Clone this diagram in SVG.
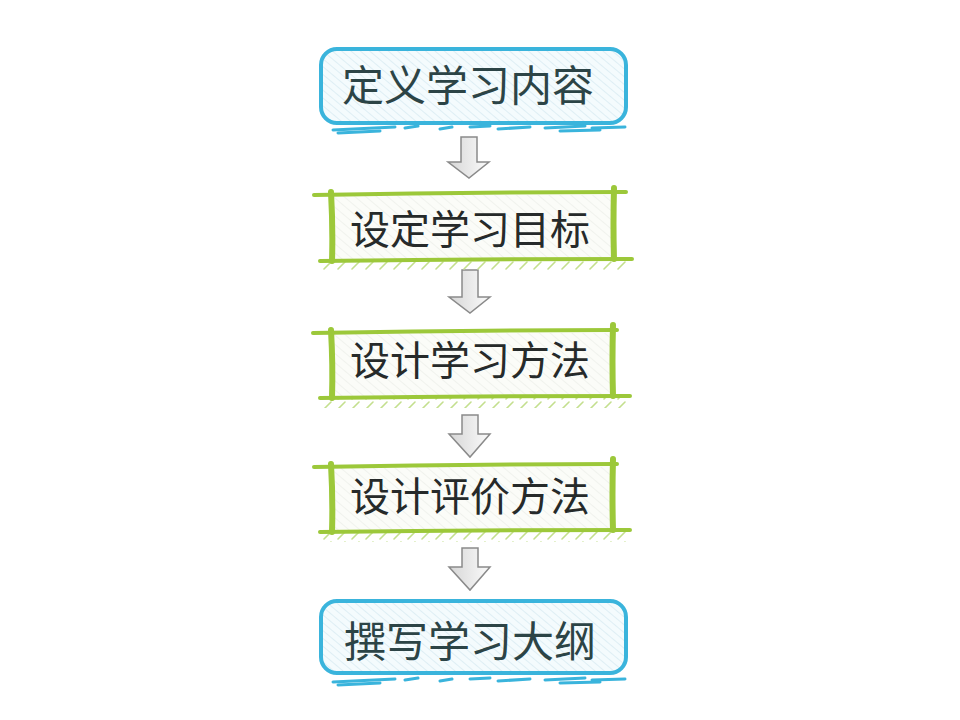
<svg xmlns="http://www.w3.org/2000/svg" width="960" height="720" viewBox="0 0 960 720">
<style>
  .lbl { font-family: "Noto Sans CJK SC", "Noto Sans", sans-serif; text-anchor: middle; font-weight: 400; }
  .blue-lbl { font-size: 42px; fill: #2c4446; }
  .green-lbl { font-size: 40px; fill: #262a2a; }
  .blue-box { fill: url(#hatchBlue); stroke: #3ab4dc; stroke-width: 4; }
  .blue-ul { stroke: #3ab4dc; stroke-width: 3; stroke-linecap: round; fill: none; }
  .g-line { stroke: #9cc83a; stroke-width: 4; stroke-linecap: round; fill: none; }
  .g-vert { stroke: #9cc83a; stroke-width: 6; stroke-linecap: round; fill: none; }
  .g-fill { fill: url(#hatchGrey); }
  .g-tick { fill: url(#tickGreen); }
  .arrow { fill: url(#arrGrad); stroke: #8a8a8a; stroke-width: 1.5; stroke-linejoin: miter; }
</style>
<defs>
  <pattern id="hatchBlue" width="6" height="6" patternUnits="userSpaceOnUse" patternTransform="rotate(-50)">
    <rect width="6" height="6" fill="#f4fbfd"/>
    <line x1="0" y1="0" x2="0" y2="6" stroke="#cfe6ee" stroke-width="1.2"/>
  </pattern>
  <pattern id="hatchGrey" width="7" height="7" patternUnits="userSpaceOnUse" patternTransform="rotate(-50)">
    <rect width="7" height="7" fill="#fbfcf8"/>
    <line x1="0" y1="0" x2="0" y2="7" stroke="#e6e8e2" stroke-width="1"/>
  </pattern>
  <pattern id="tickGreen" width="14" height="10" patternUnits="userSpaceOnUse">
    <line x1="2" y1="9" x2="9" y2="2" stroke="#c4df8e" stroke-width="1.6" stroke-linecap="round"/>
  </pattern>
  <linearGradient id="arrGrad" x1="0" y1="0" x2="1" y2="0">
    <stop offset="0" stop-color="#d6d6d6"/>
    <stop offset="1" stop-color="#fbfbfb"/>
  </linearGradient>
</defs>
<rect width="960" height="720" fill="#ffffff"/>

<g id="connectors">
  <polygon class="arrow" points="461,137 477,137 477,162 489,162 469,178 448,162 461,162"/>
  <polygon class="arrow" points="462,270 478,270 478,297 490,297 470,313 449,297 462,297"/>
  <polygon class="arrow" points="462,415 478,415 478,434 490,434 470,457 449,434 462,434"/>
  <polygon class="arrow" points="462,548 478,548 478,567 490,567 470,590 449,567 462,567"/>
</g>

<g id="node1">
  <rect class="blue-box" x="321" y="49" width="305" height="74" rx="16" ry="16"/>
  <path class="blue-ul" d="M333,130 L395,127 M405,128 L418,126 M440,129 L452,127 M470,127 L490,126 M498,129 L530,127 M545,128 L585,126 M592,128 L625,127"/>
  <path class="blue-ul" d="M338,133 L380,131 M560,131 L600,130" stroke-width="1.5"/>
  <text class="lbl blue-lbl" x="468" y="101">定义学习内容</text>
</g>

<g id="node2">
  <rect class="g-fill" x="332" y="195" width="281" height="65"/>
  <rect class="g-tick" x="322" y="261" width="306" height="10"/>
  <path class="g-line" d="M314,195 Q470,192 626,192"/>
  <path class="g-line" d="M320,261 Q475,259 632,259"/>
  <path class="g-vert" d="M331,192 Q333,228 332,261"/>
  <path class="g-vert" d="M614,188 Q613,225 614,259"/>
  <text class="lbl green-lbl" x="470" y="244">设定学习目标</text>
</g>

<g id="node3">
  <rect class="g-fill" x="332" y="333" width="281" height="64"/>
  <rect class="g-tick" x="322" y="398" width="306" height="10"/>
  <path class="g-line" d="M313,333 Q470,330 617,330"/>
  <path class="g-line" d="M320,398 Q475,396 630,396"/>
  <path class="g-vert" d="M331,330 Q333,365 332,398"/>
  <path class="g-vert" d="M613,325 Q612,362 613,396"/>
  <text class="lbl green-lbl" x="470" y="375">设计学习方法</text>
</g>

<g id="node4">
  <rect class="g-fill" x="332" y="467" width="281" height="64"/>
  <rect class="g-tick" x="322" y="532" width="306" height="10"/>
  <path class="g-line" d="M314,467 Q470,464 617,464"/>
  <path class="g-line" d="M320,532 Q475,530 630,530"/>
  <path class="g-vert" d="M331,464 Q333,499 332,532"/>
  <path class="g-vert" d="M613,459 Q612,496 613,530"/>
  <text class="lbl green-lbl" x="470" y="511">设计评价方法</text>
</g>

<g id="node5">
  <rect class="blue-box" x="321" y="601" width="305" height="72" rx="16" ry="16"/>
  <path class="blue-ul" d="M333,682 L395,679 M405,680 L418,678 M440,681 L452,679 M470,679 L490,678 M498,681 L530,679 M545,680 L585,678 M592,680 L625,679"/>
  <path class="blue-ul" d="M338,685 L380,683 M560,683 L600,682" stroke-width="1.5"/>
  <text class="lbl blue-lbl" x="470" y="657">撰写学习大纲</text>
</g>
</svg>
